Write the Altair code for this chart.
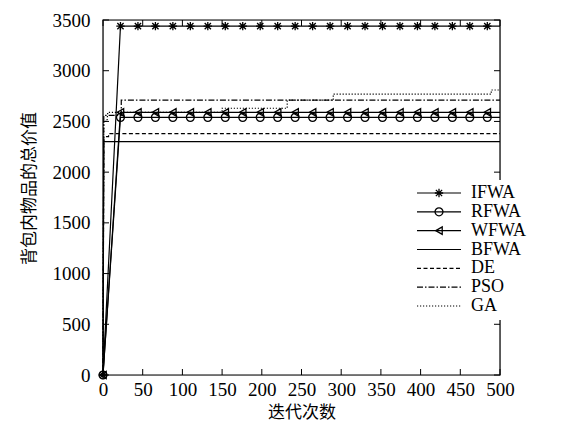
import altair as alt
import pandas as pd

# ---------------- data ----------------
series_names = ["IFWA", "RFWA", "WFWA", "BFWA", "DE", "PSO", "GA"]

marker_iters = [0, 22, 44, 66, 88, 110, 132, 154, 176, 198, 220, 242, 264,
                286, 308, 330, 352, 374, 396, 418, 440, 462, 484]
ifwa_vals = [0, 3440, 3440, 3440, 3440, 3440, 3440, 3440, 3440, 3440, 3440, 3440,
             3440, 3440, 3440, 3440, 3440, 3440, 3440, 3440, 3440, 3440, 3440]
rfwa_vals = [0, 2540, 2540, 2540, 2540, 2540, 2540, 2540, 2540, 2540, 2540, 2540,
             2540, 2540, 2540, 2540, 2540, 2540, 2540, 2540, 2540, 2540, 2540]
wfwa_vals = [0, 2590, 2590, 2590, 2590, 2590, 2590, 2590, 2590, 2590, 2590, 2590,
             2590, 2590, 2590, 2590, 2590, 2590, 2590, 2590, 2590, 2590, 2590]
marker_end_iter = [500]
ifwa_end = [3440]
rfwa_end = [2540]
wfwa_end = [2590]

bfwa_x = [0, 1, 500]
bfwa_y = [0, 2300, 2300]
de_x = [0, 1, 7, 7, 500]
de_y = [0, 2350, 2350, 2380, 2380]
pso_x = [0, 1, 23, 23, 500]
pso_y = [0, 2560, 2560, 2710, 2710]
ga_x = [0, 1, 5, 6, 150, 150, 232, 232, 290, 290, 489, 489, 500]
ga_y = [0, 2500, 2500, 2590, 2590, 2630, 2630, 2710, 2710, 2770, 2770, 2810, 2810]

x_ticks = [0, 50, 100, 150, 200, 250, 300, 350, 400, 450, 500]
y_ticks = [0, 500, 1000, 1500, 2000, 2500, 3000, 3500]

# ---------------- tables ----------------
rows = []
for name, xs_, ys_ in [
    ("IFWA", marker_iters + marker_end_iter, ifwa_vals + ifwa_end),
    ("RFWA", marker_iters + marker_end_iter, rfwa_vals + rfwa_end),
    ("WFWA", marker_iters + marker_end_iter, wfwa_vals + wfwa_end),
    ("BFWA", bfwa_x, bfwa_y),
    ("DE", de_x, de_y),
    ("PSO", pso_x, pso_y),
    ("GA", ga_x, ga_y),
]:
    for i, (xv, yv) in enumerate(zip(xs_, ys_)):
        rows.append({"series": name, "idx": i, "it": xv, "val": yv})
lines_df = pd.DataFrame(rows)

pts = []
for name, vals in [("IFWA", ifwa_vals), ("RFWA", rfwa_vals), ("WFWA", wfwa_vals)]:
    for xv, yv in zip(marker_iters, vals):
        pts.append({"series": name, "it": xv, "val": yv})
pts_df = pd.DataFrame(pts)

xt_df = pd.DataFrame({"it": x_ticks})
yt_df = pd.DataFrame({"val": y_ticks})
leg_df = pd.DataFrame({"series": series_names})
one_df = pd.DataFrame({"k": [0]})

SERIF = "Liberation Serif"
CJK = "Noto Sans CJK SC"
star = "M-1,0L1,0M0,-1L0,1M-0.75,-0.75L0.75,0.75M-0.75,0.75L0.75,-0.75"

dash_scale = alt.Scale(domain=series_names,
                       range=[[1, 0], [1, 0], [1, 0], [1, 0], [4, 2.5], [6, 2, 1.5, 2], [1.2, 1.8]])
shape_scale = alt.Scale(domain=["IFWA", "RFWA", "WFWA"],
                        range=[star, "circle", "triangle-left"])
size_scale = alt.Scale(domain=["IFWA", "RFWA", "WFWA"], range=[70, 55, 80])

xs = alt.Scale(domain=[0, 500], nice=False)
ys = alt.Scale(domain=[0, 3500], nice=False)

x_axis = alt.Axis(values=x_ticks, ticks=False, domain=False, grid=False, format="d",
                  labelOverlap=False, labelFlush=False,
                  labelFont=SERIF, labelFontSize=19, labelColor="black",
                  labelPadding=5, title="迭代次数", titleFont=CJK,
                  titleFontSize=17, titleFontWeight="normal", titleColor="black",
                  titlePadding=5)
y_axis = alt.Axis(values=y_ticks, ticks=False, domain=False, grid=False, format="d",
                  labelOverlap=False, labelFlush=False,
                  labelFont=SERIF, labelFontSize=19, labelColor="black",
                  labelPadding=13, title="背包内物品的总价值", titleFont=CJK,
                  titleFontSize=17, titleFontWeight="normal", titleColor="black",
                  titlePadding=14, titleY=168)

X = alt.X("it:Q", scale=xs, axis=x_axis)
Y = alt.Y("val:Q", scale=ys, axis=y_axis)

lines = alt.Chart(lines_df).mark_line(color="black", strokeWidth=1.2).encode(
    x=X, y=Y,
    detail="series:N",
    order="idx:Q",
    strokeDash=alt.StrokeDash("series:N", scale=dash_scale, legend=None),
)

points = alt.Chart(pts_df).mark_point(color="black", filled=False, strokeWidth=1.3, opacity=1).encode(
    x=X, y=Y,
    shape=alt.Shape("series:N", scale=shape_scale, legend=None),
    size=alt.Size("series:N", scale=size_scale, legend=None),
)

xt_bottom = alt.Chart(xt_df).mark_rule(color="black", strokeWidth=1).encode(
    x=X, y=alt.value(355), y2=alt.value(349))
xt_top = alt.Chart(xt_df).mark_rule(color="black", strokeWidth=1).encode(
    x=X, y=alt.value(0), y2=alt.value(6))
yt_left = alt.Chart(yt_df).mark_rule(color="black", strokeWidth=1).encode(
    y=Y, x=alt.value(0), x2=alt.value(6))
yt_right = alt.Chart(yt_df).mark_rule(color="black", strokeWidth=1).encode(
    y=Y, x=alt.value(397), x2=alt.value(391))

frame = alt.Chart(one_df).mark_rect(fill=None, stroke="black", strokeWidth=1.2).encode(
    x=alt.value(0), x2=alt.value(397), y=alt.value(0), y2=alt.value(355))

main = alt.layer(lines, points, xt_bottom, xt_top, yt_left, yt_right, frame)

# opaque legend box (hides the frame behind the key, as in the original)
leg_box = alt.Chart(one_df).mark_rect(fill="white", stroke=None).encode(
    x=alt.value(305), x2=alt.value(420), y=alt.value(160), y2=alt.value(300))

ly = alt.Scale(type="point", domain=series_names, range=[173, 286], padding=0)
leg_lines = alt.Chart(leg_df).mark_rule(color="black", strokeWidth=1.2).encode(
    y=alt.Y("series:N", scale=ly, axis=None),
    x=alt.value(314), x2=alt.value(358),
    strokeDash=alt.StrokeDash("series:N", scale=dash_scale, legend=None),
)
leg_pts = alt.Chart(leg_df).mark_point(color="black", filled=False, strokeWidth=1.3, opacity=1).encode(
    y=alt.Y("series:N", scale=ly, axis=None),
    x=alt.value(336),
    shape=alt.Shape("series:N", scale=shape_scale, legend=None),
    size=alt.Size("series:N", scale=size_scale, legend=None),
).transform_filter(alt.FieldOneOfPredicate(field="series", oneOf=["IFWA", "RFWA", "WFWA"]))
leg_txt = alt.Chart(leg_df).mark_text(align="left", baseline="middle", font=SERIF,
                                      fontSize=18, color="black").encode(
    y=alt.Y("series:N", scale=ly, axis=None),
    x=alt.value(368),
    text="series:N",
)
legend = alt.layer(leg_box, leg_lines, leg_pts, leg_txt)

chart = alt.layer(main, legend).resolve_scale(y="independent").properties(
    width=397, height=355,
    autosize=alt.AutoSizeParams(type="none"),
    padding={"left": 95, "top": 12, "right": 60, "bottom": 50},
).configure_view(stroke=None).configure(background="white").configure_axis(
    labelFont=SERIF, labelFontSize=19, labelColor="black",
    titleFont=CJK, titleFontSize=17, titleFontWeight="normal", titleColor="black",
)

chart.save("out.html", embed_options={"renderer": "svg", "actions": False})
